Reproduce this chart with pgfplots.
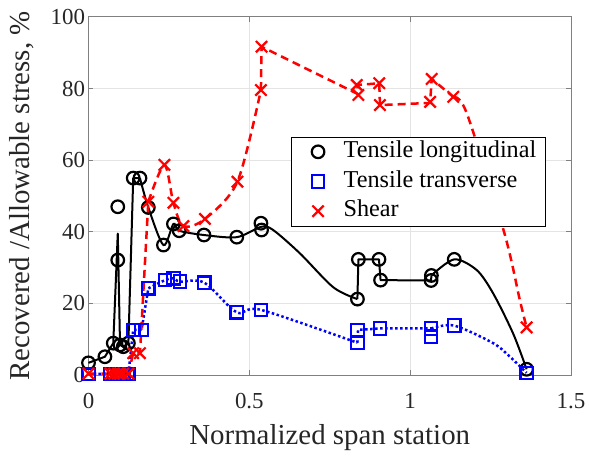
\documentclass[border=0pt]{standalone}
\usepackage{fontspec}
\setmainfont{Liberation Serif}
\usepackage{pgfplots}
\pgfplotsset{compat=1.18}
\definecolor{axgray}{RGB}{128,128,128}
\definecolor{txtgray}{RGB}{38,38,38}
\definecolor{gridgray}{RGB}{228,228,228}
\definecolor{mblue}{RGB}{0,0,255}
\definecolor{mred}{RGB}{255,0,0}

\begin{document}
\begin{tikzpicture}
\begin{axis}[
  scale only axis, width=482.5bp, height=358bp,
  xmin=0, xmax=1.5, ymin=0, ymax=100,
  xtick={0,0.5,1,1.5}, xticklabels={0,0.5,1,1.5},
  ytick={0,20,40,60,80,100}, yticklabels={0,20,40,60,80,100},
  tick align=inside, major tick length=5bp,
  axis line style={draw=axgray, line width=1bp},
  tick style={draw=axgray, line width=1bp},
  grid=major, major grid style={draw=gridgray, line width=1bp},
  ticklabel style={font=\fontsize{23}{27}\selectfont, text=txtgray},
  xticklabel style={anchor=base, yshift=-33.7bp},
  label style={font=\fontsize{29}{33}\selectfont, text=txtgray},
  xlabel={Normalized span station},
  xlabel style={at={(axis description cs:0.5,-0.1955)}, anchor=base},
  ylabel={Recovered /Allowable stress, \%},
  ylabel style={at={(axis description cs:-0.1223,0.5)}, anchor=base},
  clip=false,
  legend image code/.code={\path (0bp,0bp) (43bp,0bp); \draw[#1] plot coordinates {(25.6bp,0bp)};},
  legend cell align=left,
  legend style={at={(0.419,0.666)}, anchor=north west, draw=black, line width=0.8bp,
    fill=white, inner xsep=1bp, inner ysep=0bp, row sep=0bp,
    font=\fontsize{24.3}{28}\selectfont,
    nodes={inner xsep=7.8bp, inner ysep=4.35bp, text height=16bp, text depth=5bp}},
]
% tensile longitudinal
\addplot[black, line width=2bp, line join=round, forget plot] coordinates {
  (0,3.4)(0.051,5.1)(0.077,8.9)(0.091,39.5)(0.098,8.4)(0.108,7.9)(0.124,8.9)(0.139,55)(0.16,55)};
\addplot[black, line width=2bp, smooth, tension=0.5, forget plot] coordinates {
  (0.16,55)(0.186,46.8)(0.233,36.3)(0.264,42.2)(0.282,40.3)(0.359,39.1)(0.461,38.5)
  (0.537,41.4)(0.574,40.5)(0.657,34)(0.761,24.5)(0.836,21.2)};
\addplot[black, line width=2bp, line join=round, forget plot] coordinates {
  (0.836,21.2)(0.839,32.3)(0.903,32.3)(0.908,26.5)(1.065,26.4)(1.066,27.8)};
\addplot[black, line width=2bp, smooth, tension=0.5, forget plot] coordinates {
  (1.066,27.8)(1.137,32.3)(1.207,29.3)(1.258,22.8)(1.32,11.6)(1.362,1.6)};
\addplot[only marks, mark=o, mark size=6.3bp, mark options={draw=black, line width=2.2bp}] coordinates {
  (0,3.4)(0.051,5.1)(0.077,8.9)(0.091,32.1)(0.091,47)(0.098,8.4)(0.108,7.9)(0.124,8.9)
  (0.139,55)(0.16,55)(0.186,46.8)(0.233,36.3)(0.264,42.2)(0.282,40.3)(0.359,39.1)
  (0.461,38.5)(0.536,42.4)(0.538,40.5)(0.836,21.2)(0.839,32.3)(0.903,32.3)(0.908,26.5)
  (1.065,26.4)(1.066,27.8)(1.137,32.3)(1.362,1.6)};
\addlegendentry{Tensile longitudinal}
% tensile transverse
\addplot[mblue, line width=2.5bp, dash pattern=on 2.5bp off 2.5bp, forget plot] coordinates {
  (0,0.3)(0.124,0.3)(0.139,12.6)(0.165,12.6)(0.186,24.2)};
\addplot[mblue, line width=2.5bp, dash pattern=on 2.5bp off 2.5bp, smooth, tension=0.5, forget plot] coordinates {
  (0.186,24.2)(0.238,26.5)(0.264,27)(0.284,26.1)(0.36,25.8)(0.461,17.5)(0.536,18.2)(0.836,9)};
\addplot[mblue, line width=2.5bp, dash pattern=on 2.5bp off 2.5bp, forget plot] coordinates {
  (0.836,9)(0.838,12.6)(0.906,13)(1.065,13)};
\addplot[mblue, line width=2.5bp, dash pattern=on 2.5bp off 2.5bp, smooth, tension=0.5, forget plot] coordinates {
  (1.065,13)(1.137,13.8)(1.258,8.9)(1.31,5.1)(1.362,0.6)};
\addplot[only marks, mark=square, mark size=6.2bp, mark options={draw=mblue, line width=2.2bp}] coordinates {
  (0,0.3)(0.068,0.3)(0.08,0.3)(0.091,0.3)(0.098,0.3)(0.108,0.3)(0.124,0.3)(0.139,12.6)
  (0.165,12.6)(0.186,24.2)(0.238,26.5)(0.264,27)(0.284,26.1)(0.36,25.8)(0.461,17.5)
  (0.536,18.2)(0.836,12.6)(0.836,9)(0.906,13)(1.065,13)(1.065,10.7)(1.137,13.8)(1.362,0.6)};
\addlegendentry{Tensile transverse}
% shear
\addplot[mred, line width=2.5bp, dash pattern=on 8bp off 5bp, forget plot] coordinates {
  (0,0.4)(0.124,0.4)(0.139,6.1)(0.16,6.1)(0.186,48.4)};
\addplot[mred, line width=2.5bp, dash pattern=on 8bp off 5bp, smooth, tension=0.5, forget plot] coordinates {
  (0.186,48.4)(0.236,58.7)(0.264,48.1)(0.295,41.6)(0.362,43.6)(0.463,54)(0.536,79.6)};
\addplot[mred, line width=2.5bp, dash pattern=on 8bp off 5bp, forget plot] coordinates {
  (0.536,79.6)(0.538,91.7)(0.837,78.5)(0.836,81)(0.904,81.5)(0.906,75.4)(1.062,76)(1.067,82.7)(1.134,77.7)};
\addplot[mred, line width=2.5bp, dash pattern=on 8bp off 5bp, smooth, tension=0.5, forget plot] coordinates {
  (1.134,77.7)(1.176,73.1)(1.293,39.6)(1.341,20.9)(1.362,13.3)};
\addplot[only marks, mark=x, mark size=8bp, mark options={draw=mred, line width=2.2bp}] coordinates {
  (0,0.4)(0.068,0.4)(0.08,0.4)(0.091,0.4)(0.098,0.4)(0.108,0.4)(0.124,0.4)(0.139,6.1)
  (0.16,6.1)(0.186,48.4)(0.236,58.7)(0.264,48.1)(0.295,41.6)(0.362,43.6)(0.463,54)
  (0.536,79.6)(0.538,91.7)(0.834,81)(0.839,78.2)(0.904,81.5)(0.906,75.4)(1.062,76.3)
  (1.067,82.7)(1.134,77.7)(1.362,13.3)};
\addlegendentry{Shear}
\path (rel axis cs:0,0) ++(-88.5bp,-82bp);
\path (rel axis cs:1,1) ++(18bp,17bp);
\end{axis}
\end{tikzpicture}
\end{document}
